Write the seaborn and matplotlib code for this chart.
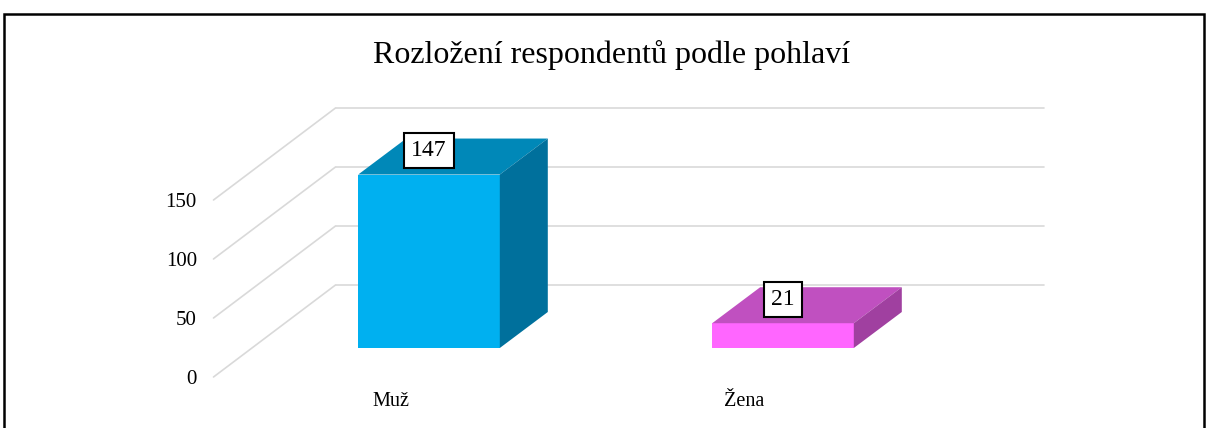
import matplotlib
matplotlib.use('Agg')
import matplotlib.pyplot as plt
import seaborn as sns
import numpy as np
from matplotlib.patches import Polygon, Rectangle
from matplotlib.transforms import ScaledTranslation

# data
categories = ['Muž', 'Žena']
counts = [147, 21]
yticks = [0, 50, 100, 150]
title = 'Rozložení respondentů podle pohlaví'

front_colors = ['#00B0F0', '#FF66FF']
top_colors = ['#0088B8', '#C050C0']
side_colors = ['#00709C', '#A040A0']

sns.set_theme(style='white')
plt.rcParams['font.family'] = ['Liberation Serif', 'DejaVu Serif']
plt.rcParams['text.color'] = 'black'

fig = plt.figure(figsize=(12.07, 4.28), dpi=100)
ax = fig.add_axes([252 / 1207, 80 / 428, 708 / 1207, 177 / 428])

sns.barplot(x=categories, y=counts, hue=categories, palette=front_colors,
            width=0.4, saturation=1, legend=False, ax=ax, zorder=3)
ax.set_xlim(-0.5, 1.5)
ax.set_ylim(0, 150)
ax.set_yticks(yticks)
for s in ax.spines.values():
    s.set_visible(False)
ax.grid(False)
ax.set_xlabel('')
ax.set_ylabel('')

# pixel offsets for the fake 3d look (display px, y up)
FRONT = (-38.5, -29)
BACK = (83.5, 63)
BAR_D = (48, 36)

inv = ax.transData.inverted()
def to_data(px):
    d = inv.transform(px) - inv.transform((0, 0))
    return d[0], d[1]

fdx, fdy = to_data(FRONT)
bkx, bky = to_data(BACK)
bdx, bdy = to_data(BAR_D)

# gridlines: left wall diagonals and back wall lines
for v in yticks:
    ax.plot([-0.5 + fdx, -0.5 + bkx], [v + fdy, v + bky], color='#D9D9D9',
            lw=1.2, clip_on=False, zorder=0)
    ax.plot([-0.5 + bkx, 1.5 + bkx], [v + bky, v + bky], color='#D9D9D9',
            lw=1.2, clip_on=False, zorder=0)

# top and side faces of the bars
for i, p in enumerate(ax.patches):
    p.set_edgecolor('none')
    p.set_clip_on(False)
    x0 = p.get_x()
    x1 = x0 + p.get_width()
    h = p.get_height()
    top = Polygon([(x0, h), (x1, h), (x1 + bdx, h + bdy), (x0 + bdx, h + bdy)],
                  closed=True, fc=top_colors[i], ec='none', clip_on=False, zorder=3)
    side = Polygon([(x1, 0), (x1 + bdx, bdy), (x1 + bdx, h + bdy), (x1, h)],
                   closed=True, fc=side_colors[i], ec='none', clip_on=False, zorder=3)
    ax.add_patch(top)
    ax.add_patch(side)

# value labels
for i, v in enumerate(counts):
    ax.annotate(str(v), xy=(i, v), xytext=(0, 24 * 0.72), textcoords='offset points',
                ha='center', va='center', fontsize=17, color='black', zorder=5,
                bbox=dict(boxstyle='square,pad=0.3', fc='white', ec='black', lw=1.5))

# tick labels moved to the front plane
ax.tick_params(axis='y', length=0, pad=12, labelsize=15, labelcolor='black')
ax.tick_params(axis='x', length=0, pad=11, labelsize=14.5, labelcolor='black')
shift = ScaledTranslation(FRONT[0] / 100, FRONT[1] / 100, fig.dpi_scale_trans)
for lab in ax.get_yticklabels() + ax.get_xticklabels():
    lab.set_transform(lab.get_transform() + shift)

fig.text(612 / 1207, 1 - 55 / 428, title, ha='center', va='center', fontsize=23,
         color='black')

fig.add_artist(Rectangle((4 / 1207, -0.05), 1200 / 1207, (428 - 14) / 428 + 0.05,
                         transform=fig.transFigure, fill=False, ec='black', lw=1.8))

plt.savefig('out.png', dpi=100)
